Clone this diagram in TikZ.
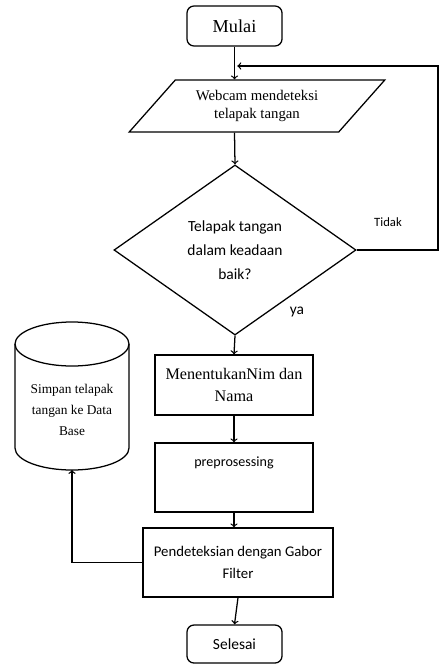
\documentclass[tikz,border=0pt]{standalone}
\usepackage{fontspec}
\setmainfont{Liberation Serif}
\newfontfamily\calibfont{Carlito}
\usetikzlibrary{shapes.geometric}

\begin{document}
\begin{tikzpicture}[x=0.025cm, y=-0.025cm, line width=0.9pt,
    every node/.style={align=center, inner sep=2pt},
    terminal/.style={rectangle, draw, rounded corners=5pt, minimum width=2.375cm},
    process/.style={rectangle, draw, minimum width=3.95cm},
    arrow/.style={->, >=to}]
    \useasboundingbox (0,0) rectangle (440,665);

    % Flow components
    \node[terminal, minimum height=1cm, font=\fontsize{13}{15}\selectfont] (mulai) at (234.5,26) {Mulai};

    \node[trapezium, draw, trapezium left angle=46, trapezium right angle=134, trapezium stretches=true, minimum width=6.4cm, minimum height=1.3cm, font=\fontsize{10.5}{13}\selectfont] (webcam) at (257,106)
        {Webcam mendeteksi \\ telapak tangan};

    \node[diamond, draw, inner sep=0pt, minimum width=6.05cm, minimum height=4.25cm, font=\calibfont\fontsize{11}{17}\selectfont] (cek) at (235,250)
        {Telapak tangan \\ dalam keadaan \\ baik?};

    \node[process, minimum height=1.5cm, font=\fontsize{11.5}{16}\selectfont] (nim) at (234,385)
        {MenentukanNim dan \\ Nama};

    \node[process, minimum height=1.725cm, font=\calibfont\fontsize{10}{23}\selectfont] (prep) at (234,477.5)
        {preprosessing \\ \mbox{}};

    \node[rectangle, draw, minimum width=4.75cm, minimum height=1.725cm, font=\calibfont\fontsize{10.5}{16}\selectfont] (pend) at (238,562.5)
        {Pendeteksian dengan Gabor \\ Filter};

    \node[terminal, minimum height=0.95cm, font=\calibfont\fontsize{11}{13}\selectfont] (selesai) at (234.5,644) {Selesai};

    % Data base cylinder
    \draw (72,344) ellipse [x radius=1.425cm, y radius=0.55cm];
    \draw (15,344) -- (15,448) arc [start angle=180, end angle=360, x radius=1.425cm, y radius=0.55cm] -- (129,344);
    \coordinate (dbbot) at (72,470);
    \node[font=\fontsize{9.5}{15}\selectfont] (db) at (72,410)
        {Simpan telapak \\ tangan ke Data \\ Base};

    % Loop back point
    \coordinate (balik) at (438,66);

    % Arrows
    \draw[arrow] (mulai.south) -- (mulai.south |- webcam.north);
    \draw[arrow] (mulai.south |- webcam.south) -- (cek.north);
    \draw[arrow] (cek.south) -- (nim.north);
    \draw[arrow] (nim.south) -- (prep.north);
    \draw[arrow] (prep.south) -- (prep.south |- pend.north);
    \draw[arrow] (pend.south) -- (selesai.north);
    \draw[arrow] (pend.west) -| (dbbot);
    \draw[arrow, shorten >=2pt] (cek.east) -| (balik) -- (mulai.south |- balik);

    % Branch labels
    \node[font=\calibfont\fontsize{9}{11}\selectfont] (tidak) at (388,222) {Tidak};
    \node[font=\calibfont\fontsize{11}{13}\selectfont] (ya) at (297,312) {ya};
\end{tikzpicture}
\end{document}
